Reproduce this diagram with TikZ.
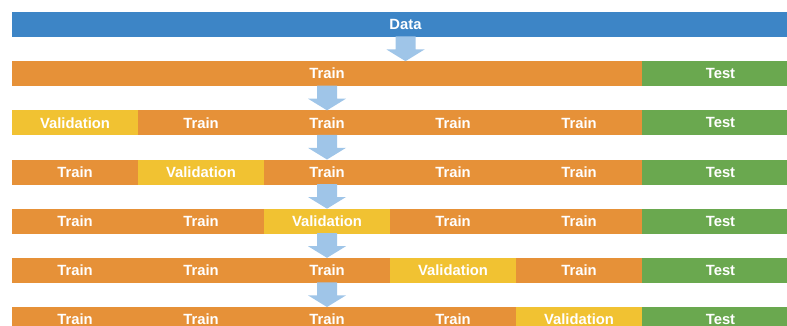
\documentclass[tikz,border=0pt]{standalone}
\usepackage{fontspec}
\setmainfont{Liberation Sans}
\usetikzlibrary{calc}

\definecolor{datablue}{HTML}{3D85C6}
\definecolor{trainorange}{HTML}{E69138}
\definecolor{valyellow}{HTML}{F1C232}
\definecolor{testgreen}{HTML}{6AA84F}
\definecolor{arrowblue}{HTML}{9FC5E8}

% down arrow (shaft + head) from one bar edge to the next
\newcommand\flowarrow[2]{%
  \fill[flowarrow] let \p1=(#1), \p2=(#2) in
    (\x1-10pt,\y1+0.5pt) -- (\x1+10pt,\y1+0.5pt) -- (\x1+10pt,\y1-12.5pt)
    -- (\x1+19pt,\y1-12.5pt) -- (\x1,\y2) -- (\x1-19pt,\y1-12.5pt)
    -- (\x1-10pt,\y1-12.5pt) -- cycle;}

\begin{document}
\begin{tikzpicture}[x=1pt,y=-1pt,
  cell/.style={rectangle, anchor=north west, inner sep=0pt, outer sep=0pt,
    minimum height=25pt, minimum width=126pt, text=white,
    font=\fontsize{14.8}{16}\selectfont\bfseries},
  datacell/.style={cell, fill=datablue},
  traincell/.style={cell, fill=trainorange},
  valcell/.style={cell, fill=valyellow},
  testcell/.style={cell, fill=testgreen, minimum width=157pt},
  flowarrow/.style={fill=arrowblue}]
\useasboundingbox (0,0) rectangle (787,326);
\clip (0,0) rectangle (787,326);

% full data set
\node[datacell, minimum width=787pt] (data) at (12,12) {Data};

% train / test split
\node[traincell, minimum width=630pt] (r2train) at (12,61.17) {Train};
\node[testcell] (r2test) at (642,61.17) {Test};

% folds: validation block moves one column per row
\foreach \r in {3,...,7} {
  \pgfmathtruncatemacro\v{\r-2}
  \foreach \c in {1,...,5} {
    \ifnum\c=\v
      \node[valcell] (r\r c\c) at ({12+126*(\c-1)},{12+49.17*(\r-1)}) {Validation};
    \else
      \node[traincell] (r\r c\c) at ({12+126*(\c-1)},{12+49.17*(\r-1)}) {Train};
    \fi
  }
  \node[testcell] (r\r c6) at (642,{12+49.17*(\r-1)}) {Test};
}

% arrows between rows
\flowarrow{data.south}{data.south |- r2train.north}
\flowarrow{r2train.south}{r3c3.north}
\foreach \r [evaluate=\r as \rnext using int(\r+1)] in {3,...,6} {
  \flowarrow{r\r c3.south}{r\rnext c3.north}
}
\end{tikzpicture}
\end{document}
